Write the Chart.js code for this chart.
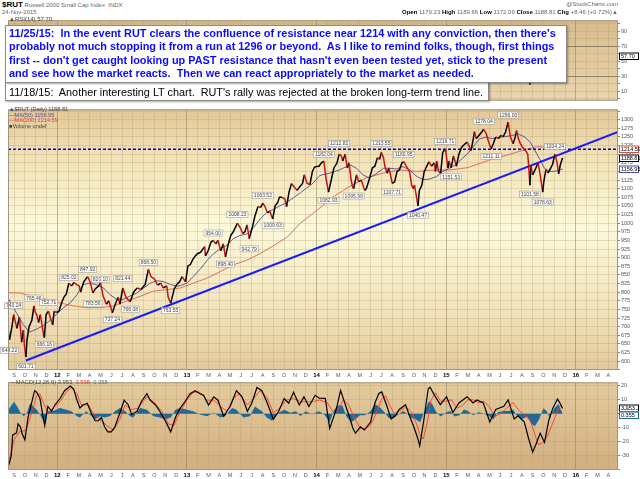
<!DOCTYPE html>
<html>
<head>
<meta charset="utf-8">
<script src="https://cdn.jsdelivr.net/npm/chart.js@4.4.0/dist/chart.umd.min.js"></script>
<style>
body { margin: 0; background: #fff; font-family: "Liberation Sans", Arial, sans-serif; }
#wrap { position: relative; width: 640px; height: 479px; overflow: hidden; }
canvas { position: absolute; left: 0; }
.t { position: absolute; white-space: pre; font-size: 6px; line-height: 7px; color: #666; }
.box { position: absolute; background: #fff; border: 1px solid #8a8a8a; box-shadow: 1px 1px 2px rgba(0,0,0,0.35); white-space: pre; box-sizing: border-box; }
</style>
</head>
<body>
<div id="wrap">
  <canvas id="rsiChart" width="640" height="89" style="top:16px"></canvas>
  <canvas id="priceChart" width="640" height="274" style="top:105px"></canvas>
  <canvas id="macdChart" width="640" height="101" style="top:378px"></canvas>

  <div class="t" style="left:2px;top:1px;"><b style="font-size:8px;color:#000">$RUT</b> Russell 2000 Small Cap Index  INDX</div>
  <div class="t" style="left:2px;top:9px;">24-Nov-2015</div>
  <div class="t" style="right:22px;top:1px;">@StockCharts.com</div>
  <div class="t" style="right:22px;top:9px;"><b style="color:#000">Open</b> 1179.23 <b style="color:#000">High</b> 1189.66 <b style="color:#000">Low</b> 1172.09 <b style="color:#000">Close</b> 1188.81 <b style="color:#000">Chg</b> +8.46 (+0.72%)&#9650;</div>
  <div class="t" style="left:9px;top:16px;color:#444">&#9650;RSI(14) 57.70</div>

  <div class="t" style="left:9px;top:107px;line-height:5.5px;font-size:5.6px;color:#444">&#9650;$RUT (Daily) 1188.81
<span style="color:#4b4b9a">&#8212;MA(50) 1156.95</span>
<span style="color:#d04a40">&#8212;MA(200) 1214.59</span>
&#9632;Volume undef</div>
  <div class="t" style="left:10px;top:379px;font-size:5.8px;color:#444">&#8212;MACD(12,26,9) 3.953, <span style="color:#e03a2a">3.598</span>, <span style="color:#3a7ab0">0.355</span></div>

  <div class="box" style="left:5px;top:82px;width:484px;height:19px;padding:2px 0 0 3px;font-size:10.85px;line-height:14px;color:#000;">11/18/15:  Another interesting LT chart.  RUT's rally was rejected at the broken long-term trend line.</div>
  <div class="box" style="left:5px;top:25px;width:562px;height:58px;padding:1px 0 0 3px;font-size:10.9px;font-weight:bold;line-height:13.4px;color:#0a0aff;">11/25/15:  In the event RUT clears the confluence of resistance near 1214 with any conviction, then there's
probably not much stopping it from a run at 1296 or beyond.  As I like to remind folks, though, first things
first -- don't get caught looking up PAST resistance that hasn't even been tested yet, stick to the present
and see how the market reacts.  Then we can react appropriately to the market as needed.</div>
</div>

<script>
// daily closes, sampled at the swing points
var priceDates = ['2011-08-15','2011-08-19','2011-08-26','2011-08-31','2011-09-09','2011-09-16','2011-09-22','2011-09-27','2011-09-30','2011-10-04',
  '2011-10-07','2011-10-13','2011-10-21','2011-10-27','2011-10-31','2011-11-04','2011-11-09','2011-11-14','2011-11-23','2011-11-25',
  '2011-11-30','2011-12-07','2011-12-13','2011-12-19','2011-12-23','2011-12-30','2012-01-06','2012-01-13','2012-01-20','2012-01-27',
  '2012-02-03','2012-02-10','2012-02-17','2012-02-24','2012-03-02','2012-03-06','2012-03-15','2012-03-26','2012-04-02','2012-04-10',
  '2012-04-17','2012-04-26','2012-05-01','2012-05-08','2012-05-18','2012-05-25','2012-06-04','2012-06-12','2012-06-20','2012-06-25',
  '2012-07-03','2012-07-12','2012-07-24','2012-08-03','2012-08-13','2012-08-24','2012-09-05','2012-09-14','2012-09-21','2012-10-01',
  '2012-10-10','2012-10-19','2012-10-26','2012-11-05','2012-11-09','2012-11-16','2012-11-26','2012-12-03','2012-12-11','2012-12-18',
  '2012-12-28','2012-12-31','2013-01-04','2013-01-11','2013-01-18','2013-01-25','2013-02-01','2013-02-08','2013-02-19','2013-02-21',
  '2013-02-28','2013-03-08','2013-03-14','2013-03-22','2013-03-28','2013-04-05','2013-04-12','2013-04-18','2013-04-26','2013-05-03',
  '2013-05-10','2013-05-22','2013-05-31','2013-06-06','2013-06-12','2013-06-18','2013-06-24','2013-07-02','2013-07-10','2013-07-19',
  '2013-07-26','2013-08-02','2013-08-08','2013-08-15','2013-08-22','2013-08-30','2013-09-06','2013-09-13','2013-09-18','2013-09-25',
  '2013-10-03','2013-10-08','2013-10-15','2013-10-22','2013-10-30','2013-11-07','2013-11-14','2013-11-22','2013-11-27','2013-12-05',
  '2013-12-13','2013-12-20','2013-12-26','2013-12-31','2014-01-08','2014-01-15','2014-01-22','2014-01-28','2014-02-04','2014-02-11',
  '2014-02-18','2014-02-26','2014-03-04','2014-03-10','2014-03-14','2014-03-21','2014-03-27','2014-04-01','2014-04-07','2014-04-11',
  '2014-04-14','2014-04-22','2014-04-28','2014-05-05','2014-05-15','2014-05-20','2014-05-29','2014-06-06','2014-06-13','2014-06-20',
  '2014-06-26','2014-07-01','2014-07-07','2014-07-11','2014-07-17','2014-07-23','2014-07-31','2014-08-01','2014-08-08','2014-08-15',
  '2014-08-22','2014-08-29','2014-09-03','2014-09-10','2014-09-19','2014-09-25','2014-09-30','2014-10-03','2014-10-09','2014-10-13',
  '2014-10-17','2014-10-24','2014-10-31','2014-11-07','2014-11-13','2014-11-20','2014-11-28','2014-12-01','2014-12-05','2014-12-10',
  '2014-12-16','2014-12-22','2014-12-29','2014-12-31','2015-01-06','2015-01-09','2015-01-15','2015-01-22','2015-01-30','2015-02-06',
  '2015-02-13','2015-02-20','2015-02-27','2015-03-04','2015-03-10','2015-03-16','2015-03-20','2015-03-25','2015-03-31','2015-04-08',
  '2015-04-15','2015-04-22','2015-04-28','2015-05-06','2015-05-12','2015-05-19','2015-05-27','2015-06-03','2015-06-09','2015-06-16',
  '2015-06-23','2015-06-29','2015-07-07','2015-07-13','2015-07-17','2015-07-22','2015-07-28','2015-08-06','2015-08-12','2015-08-18',
  '2015-08-21','2015-08-24','2015-08-27','2015-09-01','2015-09-08','2015-09-16','2015-09-22','2015-09-29','2015-10-02','2015-10-08',
  '2015-10-14','2015-10-22','2015-10-27','2015-11-03','2015-11-09','2015-11-13','2015-11-18','2015-11-24']
var priceClose = [690,662,700,735,695,728,655,690,644,612,
  660,700,718,760,741,735,712,735,676,668,
  735,745,722,705,745,741,745,768,785,795,
  826,818,828,822,818,800,830,845,830,798,
  810,818,828,790,765,775,740,765,785,765,
  812,785,772,800,812,808,822,866,845,838,
  820,826,812,818,785,768,810,822,830,845,
  830,849,876,880,895,905,912,915,932,905,
  920,945,950,940,950,920,940,902,940,965,
  975,1000,985,970,975,995,955,985,1020,1048,
  1045,1058,1048,1030,1035,1012,1050,1060,1075,1075,
  1070,1048,1090,1115,1105,1095,1105,1115,1140,1115,
  1112,1150,1162,1164,1165,1175,1180,1130,1090,1125,
  1160,1175,1200,1195,1180,1200,1160,1175,1125,1105,
  1100,1140,1120,1125,1095,1100,1130,1160,1165,1190,
  1185,1205,1190,1165,1145,1160,1120,1115,1120,1150,
  1155,1175,1178,1165,1150,1110,1100,1110,1075,1050,
  1095,1110,1150,1165,1178,1165,1175,1150,1180,1150,
  1145,1205,1215,1205,1160,1180,1160,1195,1165,1200,
  1220,1228,1235,1225,1210,1240,1265,1245,1252,1262,
  1272,1260,1238,1215,1230,1250,1245,1255,1250,1265,
  1293,1250,1230,1250,1268,1245,1230,1215,1210,1200,
  1160,1110,1165,1140,1155,1175,1140,1090,1120,1155,
  1145,1160,1170,1200,1175,1143,1170,1188.81]

var ma50Dates = ['2011-08-15','2011-09-07','2011-09-26','2011-10-14','2011-11-04','2011-11-22','2011-12-10','2011-12-30','2012-01-19','2012-02-07',
  '2012-02-25','2012-03-13','2012-04-01','2012-04-19','2012-05-10','2012-05-28','2012-06-16','2012-07-04','2012-07-22','2012-08-13',
  '2012-09-01','2012-09-19','2012-10-07','2012-10-25','2012-11-16','2012-12-04','2012-12-16','2013-01-01','2013-01-19','2013-02-09',
  '2013-02-26','2013-03-16','2013-04-04','2013-04-22','2013-05-10','2013-05-28','2013-06-19','2013-07-07','2013-07-25','2013-08-13',
  '2013-09-01','2013-09-19','2013-10-07','2013-10-28','2013-11-16','2013-12-04','2013-12-22','2014-01-10','2014-02-07','2014-03-04',
  '2014-04-04','2014-04-22','2014-05-10','2014-05-28','2014-06-19','2014-07-07','2014-07-25','2014-08-13','2014-09-01','2014-09-19',
  '2014-10-10','2014-10-28','2014-11-16','2014-12-04','2014-12-22','2015-01-10','2015-01-28','2015-02-15','2015-03-01','2015-03-16',
  '2015-04-04','2015-04-22','2015-05-10','2015-05-28','2015-06-16','2015-07-04','2015-07-22','2015-08-10','2015-08-25','2015-09-07',
  '2015-09-22','2015-10-04','2015-10-19','2015-11-01','2015-11-16','2015-11-24']
var ma50Values = [783,741,707,684,693,703,717,736,755,769,
  793,822,826,822,812,793,779,779,788,798,
  812,826,833,831,822,817,820,826,845,869,
  893,912,926,936,955,964,969,988,1012,1031,
  1040,1050,1059,1074,1088,1102,1116,1138,1145,1154,
  1169,1159,1140,1131,1145,1159,1159,1157,1164,1154,
  1135,1126,1128,1135,1150,1159,1169,1188,1202,1221,
  1245,1249,1245,1249,1251,1254,1259,1249,1235,1211,
  1183,1159,1150,1150,1154,1156.95]

var ma200Dates = ['2011-08-15','2011-09-16','2011-10-22','2011-12-01','2012-01-07','2012-02-16','2012-03-22','2012-05-01','2012-06-07','2012-07-13',
  '2012-08-22','2012-09-28','2012-11-04','2012-12-13','2013-01-19','2013-02-26','2013-04-04','2013-05-10','2013-06-19','2013-07-25',
  '2013-09-04','2013-10-10','2013-11-16','2013-12-25','2014-02-19','2014-04-04','2014-05-19','2014-07-07','2014-08-22','2014-10-10',
  '2014-11-25','2015-01-10','2015-03-01','2015-05-01','2015-06-19','2015-08-04','2015-09-10','2015-10-19','2015-11-07','2015-11-24']
var ma200Values = [798,798,788,779,769,760,755,755,760,774,
  788,803,807,812,826,841,860,879,893,912,
  936,960,1000,1031,1078,1107,1131,1145,1154,1150,
  1154,1154,1161,1183,1197,1211,1221,1221,1218,1214.59]

// long-term trend line anchors (Oct 2011 and Oct 2014 lows)
var trendDates = ['2011-10-04','2014-10-13']
var trendValues = [601.71, 1040.47]
var resistance = 1214

var labelDates = ['2011-08-31','2011-10-27','2011-12-07','2012-02-03','2012-03-26','2012-05-01','2012-07-03','2012-09-14','2013-03-14','2013-05-22',
  '2013-08-02','2014-01-22','2014-03-04','2014-07-01','2014-09-03','2014-12-29','2015-04-15','2015-06-23','2015-11-03',
  '2011-08-19','2011-10-04','2011-11-25','2012-04-10','2012-06-04','2012-07-25','2012-11-16','2013-04-18','2013-06-24','2013-08-30',
  '2014-02-04','2014-04-14','2014-08-01','2014-10-13','2015-01-15','2015-05-06','2015-08-24','2015-09-29']
var labelValues = [743.24,765.46,752.71,825.02,847.92,820.10,821.44,868.50,954.00,1008.23,
  1063.52,1182.04,1212.82,1213.55,1180.95,1219.71,1278.04,1296.00,1204.24,
  648.22,601.71,666.16,783.56,737.24,768.08,763.55,898.40,942.79,1009.63,
  1082.93,1095.99,1107.71,1040.47,1151.53,1211.11,1101.58,1078.63]
var labelAbove = [1,1,1,1,1,1,1,1,1,1, 1,1,1,1,1,1,1,1,1, 0,0,0,0,0,0,0,0,0,0, 0,0,0,0,0,0,0,0]

var rsiDates = ['2015-06-01','2015-06-23','2015-07-08','2015-07-17','2015-07-28','2015-08-06','2015-08-18','2015-08-21','2015-08-24','2015-08-27',
  '2015-09-01','2015-09-16','2015-09-29','2015-10-08','2015-10-22','2015-11-03','2015-11-13','2015-11-24']
var rsiValues = [55,65,40,60,45,40,42,30,19,42, 38,50,33,52,55,65,45,57.70]

var macdDates = ['2011-08-17','2011-08-24','2011-08-28','2011-09-08','2011-09-12','2011-09-19','2011-09-23','2011-10-01','2011-10-10','2011-10-19',
  '2011-10-29','2011-11-04','2011-11-13','2011-11-22','2011-11-26','2011-12-05','2011-12-16','2011-12-25','2012-01-09','2012-01-22',
  '2012-02-07','2012-02-16','2012-02-25','2012-03-04','2012-03-13','2012-03-25','2012-04-07','2012-04-16','2012-04-25','2012-05-04',
  '2012-05-13','2012-05-22','2012-06-01','2012-06-11','2012-06-25','2012-07-07','2012-07-19','2012-07-28','2012-08-13','2012-08-25',
  '2012-09-10','2012-09-19','2012-10-04','2012-10-16','2012-11-01','2012-11-16','2012-11-29','2012-12-13','2012-12-26','2013-01-10',
  '2013-01-25','2013-02-07','2013-02-16','2013-03-01','2013-03-16','2013-03-28','2013-04-13','2013-05-01','2013-05-19','2013-06-04',
  '2013-06-19','2013-07-01','2013-07-16','2013-07-30','2013-08-13','2013-09-01','2013-09-16','2013-10-01','2013-10-14','2013-10-28',
  '2013-11-13','2013-11-26','2013-12-10','2013-12-28','2014-01-09','2014-01-26','2014-02-07','2014-02-24','2014-03-08','2014-03-23',
  '2014-04-04','2014-04-12','2014-04-19','2014-05-03','2014-05-14','2014-06-01','2014-06-13','2014-06-24','2014-07-02','2014-07-17',
  '2014-07-29','2014-08-10','2014-08-21','2014-09-08','2014-09-19','2014-10-01','2014-10-12','2014-10-18','2014-10-29','2014-11-11',
  '2014-11-16','2014-11-28','2014-12-15','2015-01-02','2015-01-20','2015-02-06','2015-02-27','2015-03-16','2015-03-27','2015-04-14',
  '2015-05-02','2015-05-19','2015-06-11','2015-06-23','2015-07-10','2015-07-21','2015-08-08','2015-08-20','2015-09-01','2015-09-10',
  '2015-09-22','2015-10-04','2015-10-16','2015-10-28','2015-11-10','2015-11-16','2015-11-24']
var macdValues = [-36.7,-30,-15.2,-13.6,-7.3,-9.5,-14,-18.6,-2.7,6.3,
  16.5,15.4,10.9,-2.7,-8.4,5.2,1.8,6.3,10.9,16.5,
  19.9,17.7,9.7,4.1,6.3,7.5,-0.5,-5,-5,-2.7,
  -9.5,-12.9,-12.9,-9.5,0.7,9.7,6.3,-0.5,1.8,8.6,
  14.3,9.7,6.3,1.8,-5,-12.9,-2.7,4.1,8.6,14.3,
  16.5,14.3,13.2,6.3,12.1,9.7,-1.8,5.2,16.5,12.1,
  1.8,7.5,18.8,16.5,8.6,-3.9,1.8,10.9,7.5,15.4,
  6.3,12.1,5.2,13.2,11.1,11,-10.5,3.1,16.7,5.4,
  -3.7,-10.5,-13.9,-9.3,-11.6,-5.9,7.7,14.5,15.6,5.4,
  -3.7,-1.4,3.1,6.5,-1.4,-9.3,-17.3,-22.9,-5.9,17.9,
  19.0,13.4,6.5,12.2,0.9,7.7,12.2,7.7,9.9,7.7,
  -5.9,3.1,5.4,9.9,-3.7,-1.4,-5.9,-17.3,-27.5,-22,
  -14,-20.5,-5,4,10.5,8,3.953]

var signalDates = ['2011-08-18','2011-09-01','2011-09-16','2011-10-05','2011-10-19','2011-11-04','2011-11-13','2011-11-25','2011-12-05','2011-12-19',
  '2012-01-09','2012-01-27','2012-02-10','2012-02-25','2012-03-08','2012-03-28','2012-04-10','2012-04-29','2012-05-19','2012-06-07',
  '2012-06-25','2012-07-10','2012-07-28','2012-08-16','2012-09-10','2012-09-28','2012-10-22','2012-11-10','2012-11-25','2012-12-13',
  '2013-01-01','2013-01-19','2013-02-07','2013-02-25','2013-03-16','2013-04-04','2013-04-22','2013-05-10','2013-05-28','2013-06-19',
  '2013-07-07','2013-07-25','2013-08-13','2013-09-01','2013-09-19','2013-10-07','2013-10-28','2013-11-16','2013-12-04','2013-12-22',
  '2014-01-10','2014-02-01','2014-02-16','2014-03-01','2014-03-16','2014-04-01','2014-04-16','2014-05-01','2014-05-16','2014-06-01',
  '2014-06-16','2014-07-01','2014-07-13','2014-07-25','2014-08-07','2014-08-22','2014-09-10','2014-09-25','2014-10-07','2014-10-19',
  '2014-10-28','2014-11-07','2014-11-19','2014-12-01','2014-12-16','2015-01-01','2015-01-16','2015-02-01','2015-02-15','2015-03-01',
  '2015-03-16','2015-04-01','2015-04-16','2015-05-01','2015-05-16','2015-06-01','2015-06-19','2015-07-07','2015-07-25','2015-08-10',
  '2015-08-25','2015-09-04','2015-09-16','2015-09-28','2015-10-10','2015-10-19','2015-11-01','2015-11-13','2015-11-19','2015-11-24']
var signalValues = [-33,-18.6,-12.9,-11.7,-0.5,13.2,14.3,6.3,0.7,4.1,
  8.6,15.4,18.8,14.3,6.3,6.3,0.7,-3.9,-8.4,-11.7,
  -3.9,6.3,2.9,4.1,12.1,8.6,1.8,-7.3,-8.4,1.8,
  9.7,15.4,15.4,9.7,9.7,5.2,1.8,10.9,14.3,6.3,
  10.9,16.5,12.1,0.7,4.1,9.7,10.9,8.6,8.6,8.6,
  9.9,8,1,3,10,6,-3,-10,-11,-8,
  0,10,13,6,0,2,5,1,-6,-15,
  -18,-8,10,15,9,9,10,4,6,10,
  10,8,9,5,-2,0,4,8,2,-1,
  -5,-12,-22,-21,-17,-12,-4,4,6,3.598]

var histDates = ['2011-08-16','2011-09-01','2011-09-10','2011-09-19','2011-09-28','2011-10-07','2011-10-16','2011-10-25','2011-11-04','2011-11-13',
  '2011-11-22','2011-11-28','2011-12-05','2011-12-19','2012-01-09','2012-01-27','2012-02-10','2012-02-25','2012-03-04','2012-03-22',
  '2012-04-07','2012-04-16','2012-04-29','2012-05-13','2012-05-28','2012-06-11','2012-06-25','2012-07-10','2012-07-24','2012-08-02',
  '2012-08-22','2012-09-10','2012-09-28','2012-10-16','2012-11-01','2012-11-16','2012-11-29','2012-12-13','2013-01-01','2013-01-19',
  '2013-02-07','2013-02-25','2013-03-16','2013-04-04','2013-04-17','2013-05-07','2013-05-19','2013-06-08','2013-06-26','2013-07-10',
  '2013-07-30','2013-08-13','2013-08-28','2013-09-16','2013-10-01','2013-10-19','2013-11-04','2013-11-16','2013-12-01','2013-12-19',
  '2014-01-07','2014-01-13','2014-01-25','2014-02-07','2014-02-19','2014-03-01','2014-03-13','2014-03-25','2014-04-07','2014-04-19',
  '2014-05-01','2014-05-16','2014-06-01','2014-06-13','2014-06-25','2014-07-10','2014-07-22','2014-08-04','2014-08-16','2014-09-01',
  '2014-09-13','2014-09-25','2014-10-07','2014-10-19','2014-11-01','2014-11-13','2014-11-22','2014-12-04','2014-12-16','2015-01-01',
  '2015-01-13','2015-01-25','2015-02-07','2015-02-19','2015-03-01','2015-03-16','2015-04-01','2015-04-16','2015-05-01','2015-05-13',
  '2015-05-25','2015-06-10','2015-06-25','2015-07-07','2015-07-19','2015-08-01','2015-08-16','2015-08-28','2015-09-07','2015-09-19',
  '2015-10-01','2015-10-10','2015-10-19','2015-11-01','2015-11-13','2015-11-19','2015-11-24']
var histValues = [3,8.6,5,0.7,-1.8,0.7,7.5,5.2,2.9,-0.5,
  -5,-7.3,1.8,1.8,4.1,2.9,1.8,-1.8,-2.7,1.8,
  -1.8,-3.9,-1.8,-2.7,-1.8,1.8,4.1,1.8,-1.8,-2.7,
  4.1,2.9,-1.8,-2.7,-3.9,-2.7,2.9,4.1,2.9,1.8,
  -0.5,-1.8,0.7,-2.7,-1.8,4.1,2.9,-2.7,-1.8,5.2,
  1.8,-2.7,-5,0.7,2.9,0.7,1.8,-1.8,1.8,-0.5,
  1.8,1,-1,-6,3,6,6,-2,-6,-4,
  -1,-1,2,7,5,1,-3,-3,-1,2,
  0,-3,-4,-6,2,9,7,1,-2,1,
  2,-2,-1,3,2,-1,1,0,-2,-4,
  1,2,2,3,-2,-4,-2,-7,-9,-4,
  4,2,-3,4,7,3,0.355]

var monthLetters = ['J','F','M','A','M','J','J','A','S','O','N','D']
var rsiLabels = [10, 30, 50, 70, 90]

// months since 1 Sep 2011, fractional
function monthIndex(d) {
    var p = d.split('-'), y = +p[0], mo = +p[1], day = +p[2]
    var dim = new Date(y, mo, 0).getDate()
    return (y - 2011) * 12 + (mo - 9) + (day - 1) / dim
}

function pts(dates, vals) {
    return dates.map(function (d, i) { return { x: monthIndex(d), y: vals[i] } })
}

var X_MIN = -0.56, X_MAX = 55.9
var FONT = '"Liberation Sans", Arial, sans-serif'

function tickVal(c) { return c && c.tick ? c.tick.value : -1 }
function isYear(v) { return v >= 0 && (v + 8) % 12 === 0 }

function xAxis(showLabels) {
    return {
        type: 'linear', min: X_MIN, max: X_MAX,
        afterBuildTicks: function (s) {
            var t = []
            for (var i = 0; i <= 55; i++) t.push({ value: i })
            s.ticks = t
        },
        afterFit: function (s) { s.height = showLabels ? 9 : 0 },
        grid: {
            drawTicks: false,
            color: function (c) { return isYear(tickVal(c)) ? 'rgba(140,120,80,0.5)' : 'rgba(170,150,110,0.28)' }
        },
        border: { display: false },
        ticks: {
            display: showLabels, autoSkip: false, maxRotation: 0, padding: 2,
            font: function (c) { var y = isYear(tickVal(c)); return { family: FONT, size: y ? 6 : 5.5, weight: y ? 'bold' : 'normal' } },
            color: function (c) { return isYear(tickVal(c)) ? '#000' : '#555' },
            callback: function (v) {
                if (isYear(v)) return String(2011 + Math.floor((v + 8) / 12)).slice(2)
                return monthLetters[(v + 8) % 12]
            }
        }
    }
}

function yAxis(min, max, step, labelFn, colorFn) {
    return {
        position: 'right', min: min, max: max,
        afterBuildTicks: function (s) {
            var t = []
            for (var k = Math.ceil(min / step); k * step <= max; k++) t.push({ value: k * step })
            s.ticks = t
        },
        afterFit: function (s) { s.width = 22 },
        grid: { color: colorFn || 'rgba(170,150,110,0.28)', tickLength: 2, tickColor: '#888' },
        border: { display: false },
        ticks: { padding: 1, autoSkip: false, font: { family: FONT, size: 5.5 }, color: '#555', callback: labelFn }
    }
}

var panelBg = {
    id: 'panelBg',
    beforeDraw: function (chart, args, opts) {
        var a = chart.chartArea, c = chart.ctx
        var g = c.createLinearGradient(0, a.top, 0, a.bottom)
        opts.stops.forEach(function (s) { g.addColorStop(s[0], s[1]) })
        c.save()
        c.fillStyle = g
        c.fillRect(a.left, a.top, a.right - a.left, a.bottom - a.top)
        c.restore()
    },
    afterDraw: function (chart) {
        var a = chart.chartArea, c = chart.ctx
        c.save()
        c.strokeStyle = '#a09580'
        c.lineWidth = 1
        c.strokeRect(a.left + 0.5, a.top + 0.5, a.right - a.left - 1, a.bottom - a.top - 1)
        c.restore()
    }
}

var sideTags = {
    id: 'sideTags',
    afterDraw: function (chart, args, opts) {
        var c = chart.ctx, ys = chart.scales.y, a = chart.chartArea
        ;(opts.items || []).forEach(function (it) {
            var py = Math.round(ys.getPixelForValue(it.v))
            c.save()
            if (it.dash) {
                c.strokeStyle = it.color; c.lineWidth = 1; c.setLineDash([2, 1])
                c.beginPath(); c.moveTo(a.right, py + 0.5); c.lineTo(a.right + 21, py + 0.5); c.stroke()
            } else {
                c.fillStyle = '#fff'; c.strokeStyle = it.color; c.lineWidth = 1
                c.fillRect(a.right + 1, py - 3.5, 20, 7)
                c.strokeRect(a.right + 1.5, py - 3, 19, 6.5)
                c.fillStyle = '#000'; c.font = '5.5px ' + FONT; c.textBaseline = 'middle'
                c.fillText(it.text, a.right + 3, py + 0.3)
            }
            c.restore()
        })
    }
}

var peakLabels = {
    id: 'peakLabels',
    afterDatasetsDraw: function (chart) {
        var c = chart.ctx, xs = chart.scales.x, ys = chart.scales.y
        c.save()
        c.font = '5px ' + FONT
        c.textAlign = 'center'
        c.textBaseline = 'middle'
        labelDates.forEach(function (d, i) {
            var txt = labelValues[i].toFixed(2)
            var px = xs.getPixelForValue(monthIndex(d))
            var py = ys.getPixelForValue(labelValues[i]) + (labelAbove[i] ? -6 : 6)
            var w = c.measureText(txt).width + 3
            c.fillStyle = 'rgba(255,255,255,0.92)'
            c.strokeStyle = '#9a9a9a'
            c.lineWidth = 0.6
            c.fillRect(px - w / 2, py - 3, w, 6)
            c.strokeRect(px - w / 2, py - 3, w, 6)
            c.fillStyle = '#444'
            c.fillText(txt, px, py + 0.3)
        })
        c.restore()
    }
}

var common = {
    responsive: false,
    animation: false,
    events: [],
    layout: { padding: { left: 8, right: 0, top: 0, bottom: 0 } },
    elements: { point: { radius: 0 }, line: { tension: 0 } }
}

function opts(scales, plugins) {
    return Object.assign({}, common, {
        scales: scales,
        plugins: Object.assign({ legend: { display: false }, tooltip: { enabled: false } }, plugins)
    })
}

//- RSI -
new Chart(document.getElementById('rsiChart').getContext('2d'), {
    type: 'line',
    data: { datasets: [{ data: pts(rsiDates, rsiValues), borderColor: '#000', borderWidth: 1 }] },
    options: opts({
        x: xAxis(false),
        y: yAxis(-2.4, 104.8, 10,
            function (v) { return rsiLabels.indexOf(Math.round(v)) >= 0 ? String(Math.round(v)) : '' },
            function (c) { var v = tickVal(c); return (v === 70 || v === 30) ? 'rgba(110,100,80,0.7)' : 'rgba(170,150,110,0.28)' })
    }, {
        panelBg: { stops: [[0, '#d9bb8b'], [1, '#e9d5ad']] },
        sideTags: { items: [{ v: 57.70, text: '57.70', color: '#000' }] }
    }),
    plugins: [panelBg, sideTags]
})

//- PRICE -
var trendSlope = (trendValues[1] - trendValues[0]) / (monthIndex(trendDates[1]) - monthIndex(trendDates[0]))
var trendPts = [
    { x: monthIndex(trendDates[0]), y: trendValues[0] },
    { x: X_MAX, y: trendValues[0] + trendSlope * (X_MAX - monthIndex(trendDates[0])) }
]

new Chart(document.getElementById('priceChart').getContext('2d'), {
    type: 'line',
    data: {
        datasets: [
            {
                data: pts(priceDates, priceClose), borderWidth: 1.5, borderColor: '#000',
                segment: { borderColor: function (c) { return c.p1.parsed.y < c.p0.parsed.y ? '#cc1010' : '#000' } }
            },
            { data: trendPts, borderColor: '#1a1aff', borderWidth: 2 },
            { data: [{ x: X_MIN, y: resistance }, { x: X_MAX, y: resistance }], borderColor: '#0000dd', borderWidth: 1.4, borderDash: [3, 2] },
            { data: pts(ma50Dates, ma50Values), borderColor: '#4a4a96', borderWidth: 0.9 },
            { data: pts(ma200Dates, ma200Values), borderColor: '#e06050', borderWidth: 0.9 }
        ]
    },
    options: opts({
        x: xAxis(true),
        y: yAxis(574.3, 1330, 25, function (v) { return (v >= 600 && v <= 1300) ? String(v) : '' })
    }, {
        panelBg: { stops: [[0, '#e3c796'], [0.18, '#f2e2b6'], [0.45, '#fcf9da'], [0.75, '#f3e5bd'], [1, '#e3c99b']] },
        sideTags: { items: [
            { v: 1214.59, text: '1214.59', color: '#d05040' },
            { v: 1188.81, text: '1188.81', color: '#000' },
            { v: 1156.95, text: '1156.95', color: '#4a4a96' }
        ] }
    }),
    plugins: [panelBg, sideTags, peakLabels]
})

//- MACD -
new Chart(document.getElementById('macdChart').getContext('2d'), {
    type: 'line',
    data: {
        datasets: [
            { data: pts(macdDates, macdValues), borderColor: '#000', borderWidth: 1.2 },
            { data: pts(signalDates, signalValues), borderColor: '#ff3a2a', borderWidth: 0.9 },
            { data: pts(histDates, histValues), borderWidth: 0, backgroundColor: '#1d6a99', fill: 'origin' }
        ]
    },
    options: opts({
        x: xAxis(true),
        y: yAxis(-40.2, 22.5, 10, function (v) { return (v >= -30 && v <= 20 && v !== 0) ? String(v) : '' })
    }, {
        panelBg: { stops: [[0, '#e4cb9d'], [1, '#d2ae80']] },
        sideTags: { items: [
            { v: 3.953, text: '3.953', color: '#000' },
            { v: 3.598, color: '#ff3a2a', dash: true },
            { v: -0.8, text: '0.355', color: '#1d6a99' }
        ] }
    }),
    plugins: [panelBg, sideTags]
})
</script>
</body>
</html>
